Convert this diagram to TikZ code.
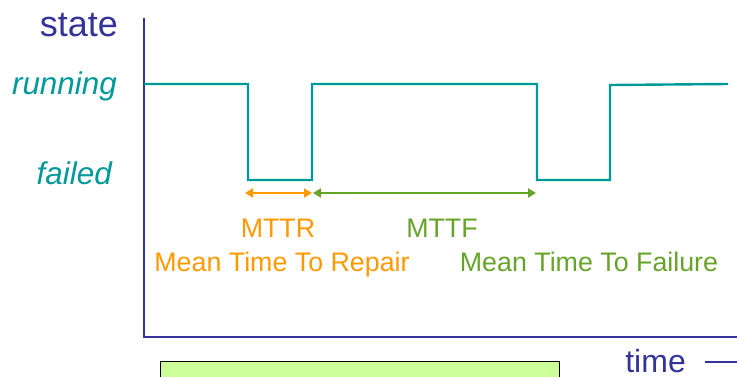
\documentclass[tikz,border=0pt]{standalone}
\usepackage{fontspec}
\setmainfont{Liberation Sans}
\usetikzlibrary{arrows.meta}
\definecolor{axisblue}{RGB}{51,51,153}
\definecolor{teal}{RGB}{0,153,153}
\definecolor{repairorange}{RGB}{255,153,0}
\definecolor{failgreen}{RGB}{102,163,41}
\definecolor{panelgreen}{RGB}{204,255,153}
\tikzset{
  axisline/.style={draw=axisblue, line width=2.4pt},
  signal/.style={draw=teal, line width=2.4pt, line join=miter},
  span/.style={line width=2.8pt, {Triangle[length=8pt,width=9pt]}-{Triangle[length=8pt,width=9pt]}},
  lbl/.style={inner sep=0pt, anchor=base},
  axislabel/.style={lbl, anchor=base east, text=axisblue, font=\fontsize{36}{36}\selectfont},
  timelabel/.style={lbl, anchor=base east, text=axisblue, font=\fontsize{32}{32}\selectfont},
  statelabel/.style={lbl, anchor=base east, text=teal, font=\fontsize{31.4}{31.4}\selectfont\itshape},
  spanlabel/.style={lbl, font=\fontsize{26.8}{26.8}\selectfont},
}
\begin{document}
\begin{tikzpicture}[x=1pt, y=-1pt]
  \useasboundingbox (0,0) rectangle (737,377);
  \clip (0,0) rectangle (737,377);

  % axes
  \coordinate (ytop) at (144,18);
  \coordinate (origin) at (144,337);
  \coordinate (xend) at (745,337);
  \draw[axisline] (ytop) -- (origin) -- (xend);

  % axis and state labels
  \node[axislabel] (state) at (118,37) {state};
  \node[statelabel] (running) at (117,95) {running};
  \node[statelabel] (failed) at (112,185) {failed};

  % state over time
  \coordinate (s0) at (144,84);
  \coordinate (f1a) at (248,84);
  \coordinate (f1b) at (248,180);
  \coordinate (r1a) at (312,180);
  \coordinate (r1b) at (312,84);
  \coordinate (f2a) at (537,84);
  \coordinate (f2b) at (537,180);
  \coordinate (r2a) at (610,180);
  \coordinate (r2b) at (610,85);
  \coordinate (s1) at (728,84);
  \draw[signal] (s0) -- (f1a) -- (f1b) -- (r1a) -- (r1b) -- (f2a) -- (f2b) -- (r2a) -- (r2b) -- (s1);

  % repair and failure intervals
  \coordinate (mttrL) at (245,193);
  \coordinate (mttrR) at (312,193);
  \coordinate (mttfL) at (313,193);
  \coordinate (mttfR) at (536,193);
  \draw[span, repairorange] (mttrL) -- (mttrR);
  \draw[span, failgreen] (mttfL) -- (mttfR);

  \node[spanlabel, text=repairorange] (mttr) at (278,237) {MTTR};
  \node[spanlabel, text=failgreen] (mttf) at (442,237) {MTTF};
  \node[spanlabel, text=repairorange] (mttrtext) at (282,271) {Mean Time To Repair};
  \node[spanlabel, text=failgreen] (mttftext) at (589,271) {Mean Time To Failure};

  % panel below the axis
  \node[draw=black, line width=0.8pt, fill=panelgreen, minimum width=399pt, minimum height=40pt, anchor=north west, inner sep=0pt] (panel) at (160,361) {};

  % time label and arrow
  \node[timelabel] (time) at (686,372) {time};
  \coordinate (tstart) at (705,362);
  \coordinate (tend) at (752,362);
  \draw[axisblue, line width=1.8pt, -{Triangle[length=9pt,width=9pt]}] (tstart) -- (tend);
\end{tikzpicture}
\end{document}
